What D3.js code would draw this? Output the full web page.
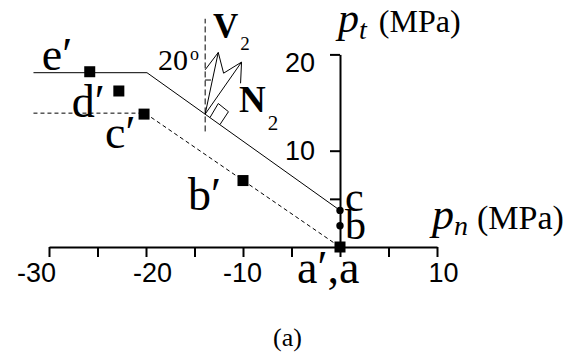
<!DOCTYPE html>
<html><head><meta charset="utf-8">
<script src="https://cdn.jsdelivr.net/npm/d3@7"></script>
<style>body{margin:0;background:#fff}svg{display:block}</style>
</head><body>
<svg id="chart" width="574" height="352"></svg>
<script>
// Failure envelopes in the (pn, pt) plane, MPa
const peakEnvelope = [[-31.6, 18.1], [-19.9, 18.1], [0, 3.8]];
const residualEnvelope = [[-31.6, 13.9], [-20.1, 13.9], [0, 0]];

// Stress states along the loading path
const primedNames = ["e′", "d′", "c′", "b′", "a′,a"];
const primedPn = [-25.8, -22.8, -20.2, -10, 0];
const primedPt = [18.2, 16.2, 13.8, 6.9, 0];
const initialNames = ["c", "b"];
const initialPn = [0, 0];
const initialPt = [3.8, 2.2];

// Axis ticks
const pnTicks = [-30, -25, -20, -15, -10, -5, 0, 5, 10];
const pnTickLabels = ["-30", "", "-20", "", "-10", "", "", "", "10"];
const ptTicks = [5, 10, 20];
const ptTickLabels = ["", "10", "20"];

// Vector sketch (V2 and N2) drawn on the peak envelope
const sketchOrigin = [-13.9, 13.8];
const v2Tip = [-12.55, 20.2];
const n2Tip = [-10.15, 19.2];
const arrowZigzag = [[-13.9, 18.4], [-12.55, 20.2], [-12.0, 18.05], [-10.15, 19.2], [-10.25, 17.0]];
const rightAngleBox = [[-13.4, 13.45], [-12.55, 14.9], [-11.5, 14.05], [-12.37, 12.72]];
const verticalRef = [[-13.9, 12.0], [-13.9, 23.7]];
const angleMark = [[-13.9, 17.34], [-13.3, 17.34]];

// Label placement (pixel offsets from the marks / ticks)
const primedLabelOffsets = [[-48, -2], [-47, 26], [-39, 34], [-55, 29], [-43, 36]];
const initialLabelOffsets = [[5, 1], [5, 13]];
const pnTickLabelShift = [-13, 0, 6, 0, -1, 0, 0, 0, 6];
const ptTickLabelShift = [0, 0, 8];

const svg = d3.select("#chart");
const x = d3.scaleLinear().domain([-30, 10]).range([49, 437]);
const y = d3.scaleLinear().domain([0, 20]).range([247, 54.4]);
const line = d3.line().x(d => x(d[0])).y(d => y(d[1]));
const serif = "Liberation Serif, Times New Roman, serif";

// Axes
const xAxis = svg.append("g").attr("transform", `translate(0,${y(0)})`)
  .call(d3.axisBottom(x).tickValues(pnTicks).tickFormat((d, i) => pnTickLabels[i])
    .tickSize(10).tickSizeOuter(0).tickPadding(6));
const yAxis = svg.append("g").attr("transform", `translate(${x(0)},0)`)
  .call(d3.axisLeft(y).tickValues(ptTicks).tickFormat((d, i) => ptTickLabels[i])
    .tickSize(10).tickSizeOuter(0).tickPadding(15));
[xAxis, yAxis].forEach(g => {
  g.attr("font-family", "Liberation Sans, Arial, sans-serif").attr("font-size", 27);
  g.selectAll("path.domain, .tick line").attr("stroke", "#000").attr("stroke-width", 2);
  g.selectAll("text").attr("fill", "#000");
});
xAxis.selectAll(".tick text").attr("dx", (d, i) => pnTickLabelShift[i]);
yAxis.selectAll(".tick text").attr("transform", (d, i) => `translate(0,${ptTickLabelShift[i]})`);

// Envelopes
svg.append("path").attr("d", line(peakEnvelope))
  .attr("fill", "none").attr("stroke", "#000").attr("stroke-width", 1);
svg.append("path").attr("d", line(residualEnvelope))
  .attr("fill", "none").attr("stroke", "#000").attr("stroke-width", 1)
  .attr("stroke-dasharray", "4,3");

// Vector sketch
svg.append("path").attr("d", line(verticalRef))
  .attr("fill", "none").attr("stroke", "#000").attr("stroke-width", 1)
  .attr("stroke-dasharray", "6,3");
const sketch = svg.append("g").attr("fill", "none").attr("stroke", "#000").attr("stroke-width", 1);
sketch.append("path").attr("d", line([sketchOrigin, v2Tip]));
sketch.append("path").attr("d", line([sketchOrigin, n2Tip]));
sketch.append("path").attr("d", line(arrowZigzag));
sketch.append("path").attr("d", line(rightAngleBox));
sketch.append("path").attr("d", line(angleMark));

// Stress state markers
const primed = primedNames.map((n, i) => ({ name: n, pn: primedPn[i], pt: primedPt[i], off: primedLabelOffsets[i], size: 46 }));
const initial = initialNames.map((n, i) => ({ name: n, pn: initialPn[i], pt: initialPt[i], off: initialLabelOffsets[i], size: 42 }));

svg.selectAll("circle.state").data(initial).join("circle").attr("class", "state")
  .attr("cx", d => x(d.pn)).attr("cy", d => y(d.pt)).attr("r", 3.7).attr("fill", "#000");
svg.selectAll("rect.state").data(primed).join("rect").attr("class", "state")
  .attr("x", d => x(d.pn) - 5.5).attr("y", d => y(d.pt) - 5.5)
  .attr("width", 11).attr("height", 11).attr("fill", "#000");

svg.selectAll("text.plabel").data(primed.concat(initial)).join("text").attr("class", "plabel")
  .attr("x", d => x(d.pn) + d.off[0]).attr("y", d => y(d.pt) + d.off[1])
  .attr("font-family", serif).attr("font-size", d => d.size).attr("fill", "#000")
  .text(d => d.name);

// Axis titles
const ptTitle = svg.append("text").attr("x", 338).attr("y", 32).attr("font-family", serif).attr("fill", "#000");
ptTitle.append("tspan").attr("font-style", "italic").attr("font-size", 42).text("p");
ptTitle.append("tspan").attr("font-style", "italic").attr("font-size", 28).attr("dy", 7).text("t");
ptTitle.append("tspan").attr("font-size", 32).attr("dy", -7).attr("dx", 12).text("(MPa)");

const pnTitle = svg.append("text").attr("x", 432).attr("y", 229).attr("font-family", serif).attr("fill", "#000");
pnTitle.append("tspan").attr("font-style", "italic").attr("font-size", 44).text("p");
pnTitle.append("tspan").attr("font-style", "italic").attr("font-size", 28).attr("dy", 6).text("n");
pnTitle.append("tspan").attr("font-size", 34).attr("dy", -6).attr("dx", 9).text("(MPa)");

// Vector labels
const v2 = svg.append("text").attr("x", 213).attr("y", 38).attr("font-family", serif).attr("fill", "#000");
v2.append("tspan").attr("font-weight", "bold").attr("font-size", 35).text("V");
v2.append("tspan").attr("font-size", 19).attr("dy", 12).attr("dx", 2).text("2");
const n2 = svg.append("text").attr("x", 239).attr("y", 112).attr("font-family", serif).attr("fill", "#000");
n2.append("tspan").attr("font-weight", "bold").attr("font-size", 37).text("N");
n2.append("tspan").attr("font-size", 21).attr("dy", 18).attr("dx", 2).text("2");
const ang = svg.append("text").attr("x", 158).attr("y", 70).attr("font-family", serif).attr("fill", "#000");
ang.append("tspan").attr("font-size", 30).text("20");
ang.append("tspan").attr("font-size", 18).attr("dy", -10).attr("dx", 2).text("o");

// Panel caption
svg.append("text").attr("x", 273).attr("y", 346).attr("font-family", serif)
  .attr("font-size", 26).attr("fill", "#000").text("(a)");
</script>
</body></html>
